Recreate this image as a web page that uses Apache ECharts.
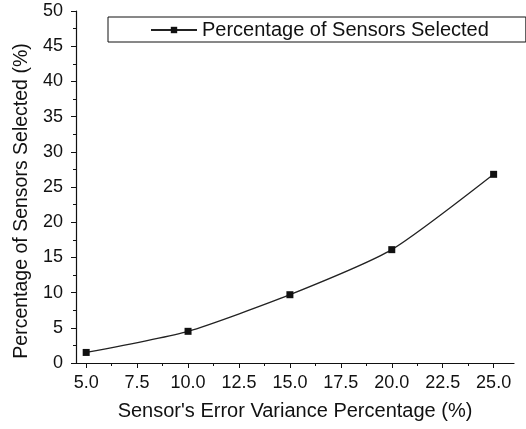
<!DOCTYPE html>
<html>
<head>
<meta charset="utf-8">
<script src="https://cdn.jsdelivr.net/npm/echarts@6/dist/echarts.min.js"></script>
<style>
  html, body { margin: 0; padding: 0; background: #fff; }
  #chart { width: 526px; height: 429px; }
</style>
</head>
<body>
<div id="chart"></div>
<script>
// error variance (%) on x, sensors selected (%) on y
const errorVariance = [5, 10, 15, 20, 25];
const sensorsSelected = [1.5, 4.5, 9.7, 16.1, 26.8];
const xMajorTicks = [5, 7.5, 10, 12.5, 15, 17.5, 20, 22.5, 25];
const xMinorTicks = [6.25, 8.75, 11.25, 13.75, 16.25, 18.75, 21.25, 23.75];

const font = 'Liberation Sans, Arial, sans-serif';
const chart = echarts.init(document.getElementById('chart'));

const option = {
  animation: false,
  grid: { left: 76, right: 12, top: 11, bottom: 66 },
  legend: {
    left: 108,
    top: 17,
    padding: [3, 37, 2, 42],
    borderColor: '#111',
    borderWidth: 1,
    itemWidth: 46,
    itemHeight: 8,
    itemGap: 0,
    textStyle: { fontFamily: font, fontSize: 20, color: '#111' },
    data: ['Percentage of Sensors Selected']
  },
  xAxis: [{
    type: 'value',
    min: 4.5,
    max: 26,
    name: "Sensor's Error Variance Percentage (%)",
    nameLocation: 'middle',
    nameGap: 38,
    nameTextStyle: { fontFamily: font, fontSize: 20, color: '#111' },
    axisLine: { lineStyle: { color: '#111', width: 1.2 } },
    axisTick: { customValues: xMajorTicks, length: 5, lineStyle: { color: '#111' } },
    axisLabel: {
      customValues: xMajorTicks,
      margin: 11,
      fontFamily: font, fontSize: 18, color: '#111',
      formatter: v => v.toFixed(1)
    },
    splitLine: { show: false }
  }, {
    type: 'value',
    min: 4.5,
    max: 26,
    position: 'bottom',
    axisLine: { show: false },
    axisTick: { customValues: xMinorTicks, length: 3, lineStyle: { color: '#111' } },
    axisLabel: { show: false },
    splitLine: { show: false }
  }],
  yAxis: {
    type: 'value',
    min: 0,
    max: 50,
    interval: 5,
    name: 'Percentage of Sensors Selected (%)',
    nameLocation: 'middle',
    nameGap: 44,
    nameTextStyle: { fontFamily: font, fontSize: 19.5, color: '#111', padding: [0, 28, 0, 0] },
    axisLine: { show: true, lineStyle: { color: '#111', width: 1.2 } },
    axisTick: { show: true, length: 5, lineStyle: { color: '#111' } },
    minorTick: { show: true, splitNumber: 2, length: 3, lineStyle: { color: '#111' } },
    axisLabel: { margin: 13, fontFamily: font, fontSize: 18, color: '#111' },
    splitLine: { show: false }
  },
  series: [{
    name: 'Percentage of Sensors Selected',
    type: 'line',
    data: errorVariance.map((x, i) => [x, sensorsSelected[i]]),
    smooth: 0.2,
    symbol: 'rect',
    symbolSize: 7,
    itemStyle: { color: '#111' },
    lineStyle: { color: '#222', width: 1.3 }
  }]
};
chart.setOption(option);
</script>
</body>
</html>
